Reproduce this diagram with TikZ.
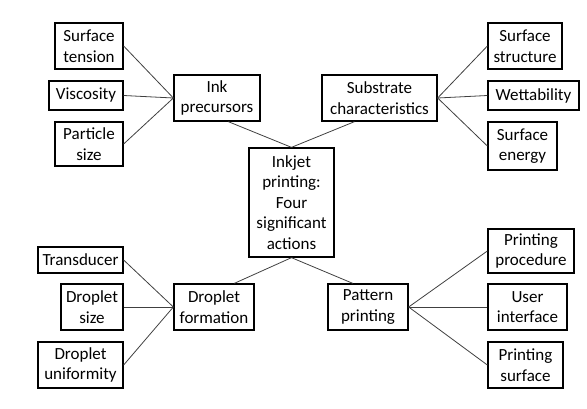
\documentclass[tikz,border=0pt]{standalone}
\usepackage{fontspec}
\setmainfont{Carlito}
\usetikzlibrary{positioning, calc}
\tikzset{
  leaf/.style={draw, line width=1.3pt, align=center, inner sep=0.5pt, minimum width=#1},
  leaf/.default=68pt,
  hub/.style={draw, line width=1.3pt, align=center, inner sep=0.5pt, minimum height=46pt, minimum width=#1},
  link/.style={line width=0.8pt, black!75},
}

\begin{document}
\begin{tikzpicture}[x=1pt, y=-1pt, font=\fontsize{17}{20.5}\selectfont]
    \useasboundingbox (0,0) rectangle (587,408);
    % centre
    \node[draw, line width=1.3pt, align=center, inner sep=0.5pt, minimum width=85pt, minimum height=109pt] (core) at (291.5,202.5)
      {Inkjet\\printing:\\Four\\significant\\actions};
    % four actions
    \node[hub=86pt] (ink) at (217,98) {Ink\\precursors};
    \node[hub=115pt] (sub) at (379.5,98) {Substrate\\characteristics};
    \node[hub=80pt] (drop) at (214,307) {Droplet\\formation};
    \node[hub=80pt] (pat) at (368,307) {Pattern\\printing};
    % ink precursors
    \node[leaf, minimum height=46pt] (ten) at (89,46) {Surface\\tension};
    \node[leaf=74pt, minimum height=29pt] (vis) at (86,95.5) {Viscosity};
    \node[leaf, minimum height=44pt] (par) at (89,144) {Particle\\size};
    % substrate
    \node[leaf=74pt, minimum height=46pt] (str) at (525,46) {Surface\\structure};
    \node[leaf=91pt, minimum height=29pt] (wet) at (533.5,95.5) {Wettability};
    \node[leaf=69pt, minimum height=48pt] (ene) at (522.5,146) {Surface\\energy};
    % droplet formation
    \node[leaf=85pt, minimum height=26pt, inner sep=0pt] (tra) at (80.5,260) {Transducer};
    \node[leaf=62pt, minimum height=46pt] (dsz) at (92,307) {Droplet\\size};
    \node[leaf=85pt, minimum height=46pt] (uni) at (80.5,365) {Droplet\\uniformity};
    % pattern printing
    \node[leaf=86pt, minimum height=44pt] (pro) at (531,251) {Printing\\procedure};
    \node[leaf=79pt, minimum height=46pt] (usr) at (527.5,307) {User\\interface};
    \node[leaf=75pt, minimum height=46pt] (srf) at (525.5,365) {Printing\\surface};

    \draw[link] ($(ink.south)!0.26!(ink.south east)$) -- (core.north);
    \draw[link] ($(sub.south)!0.43!(sub.south west)$) -- (core.north);
    \draw[link] ($(drop.north)!0.5!(drop.north east)$) -- (core.south);
    \draw[link] ($(pat.north)!0.375!(pat.north west)$) -- (core.south);
    \foreach \n in {ten, vis, par} \draw[link] (\n.east) -- (ink.west);
    \foreach \n in {str, wet, ene} \draw[link] (\n.west) -- (sub.east);
    \foreach \n in {tra, dsz, uni} \draw[link] (\n.east) -- (drop.west);
    \foreach \n in {pro, usr, srf} \draw[link] (\n.west) -- (pat.east);
\end{tikzpicture}
\end{document}
